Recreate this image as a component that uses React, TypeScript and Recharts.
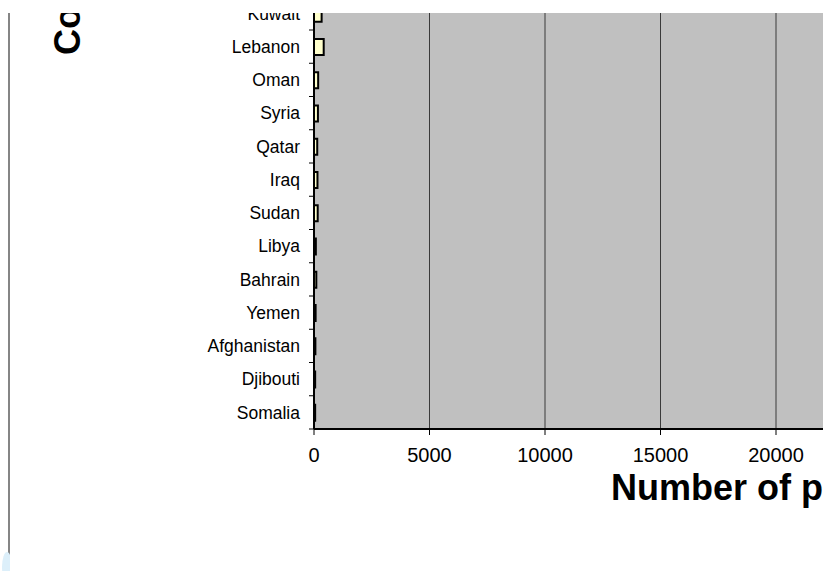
import React from "react";
import { BarChart, Bar, XAxis, YAxis, CartesianGrid } from "recharts";

const COUNTRIES = [
  "Kuwait", "Lebanon", "Oman", "Syria", "Qatar", "Iraq", "Sudan",
  "Libya", "Bahrain", "Yemen", "Afghanistan", "Djibouti", "Somalia",
];
const PEOPLE = [330, 420, 180, 170, 140, 150, 160, 80, 100, 70, 60, 50, 50];
const X_TICKS = [0, 5000, 10000, 15000, 20000, 25000, 30000];

const data = COUNTRIES.map((country, i) => ({ country, people: PEOPLE[i] }));

const FONT = '"Liberation Sans", Arial, sans-serif';

// chart geometry (chart is larger than the visible window and gets clipped)
const CHART_W = 1027;
const CHART_H = 620;
const MARGIN = { top: 36.75, right: 20, bottom: 0, left: 0 };
const X_AXIS_H = 151;
const PLOT_H = CHART_H - MARGIN.top - MARGIN.bottom - X_AXIS_H;
const HALF_BAND = PLOT_H / COUNTRIES.length / 2;

function CountryTick(props: any) {
  const { x, y, payload } = props;
  return (
    <g>
      <text
        x={x}
        y={y}
        dy="0.355em"
        textAnchor="end"
        fontSize={17.5}
        fontFamily={FONT}
        fill="#000"
      >
        {payload.value}
      </text>
      {/* Excel-style ticks sit between categories */}
      <line x1={x + 9} x2={x + 14} y1={y + HALF_BAND} y2={y + HALF_BAND} stroke="#000" strokeWidth={1} />
    </g>
  );
}

function XTitle() {
  return (
    <text x={611} y={540} fontSize={36} fontWeight="bold" fontFamily={FONT} fill="#000">
      Number of people
    </text>
  );
}

function YTitle() {
  return (
    <text
      x={80}
      y={95}
      transform="rotate(-90, 80, 95)"
      fontSize={36}
      fontWeight="bold"
      fontFamily={FONT}
      fill="#000"
    >
      Country
    </text>
  );
}

export default function App() {
  return (
    <div
      style={{
        position: "fixed",
        left: 0,
        top: 0,
        width: 826,
        height: 571,
        background: "#fff",
        overflow: "hidden",
      }}
    >
      {/* window frame edge */}
      <div style={{ position: "absolute", left: 8, top: 13, width: 2, height: 558, background: "#858585" }} />
      <div
        style={{
          position: "absolute",
          left: 2,
          top: 552,
          width: 10,
          height: 30,
          borderRadius: "50%",
          background: "#dcefFa",
        }}
      />
      <div
        style={{
          position: "absolute",
          left: 10,
          top: 13,
          width: 813,
          height: 558,
          overflow: "hidden",
          background: "#fff",
        }}
      >
        <div style={{ position: "absolute", left: -10, top: -53 }}>
          <BarChart width={CHART_W} height={CHART_H} data={data} layout="vertical" margin={MARGIN}>
            <CartesianGrid horizontal={false} stroke="#3a3a3a" fill="#C0C0C0" fillOpacity={1} />
            <XAxis
              type="number"
              domain={[0, 30000]}
              ticks={X_TICKS}
              interval={0}
              height={X_AXIS_H}
              axisLine={{ stroke: "#000", strokeWidth: 2 }}
              tickLine={{ stroke: "#000" }}
              tickSize={6}
              tickMargin={13}
              tick={{ fill: "#000", fontSize: 20, fontFamily: FONT }}
              label={<XTitle />}
            />
            <YAxis
              type="category"
              dataKey="country"
              width={314}
              interval={0}
              axisLine={{ stroke: "#000", strokeWidth: 2 }}
              tickLine={false}
              tickSize={0}
              tickMargin={14}
              tick={<CountryTick />}
              label={<YTitle />}
            />
            <Bar
              dataKey="people"
              fill="#FFFFCC"
              stroke="#000"
              strokeWidth={2}
              barSize={16}
              isAnimationActive={false}
            />
          </BarChart>
        </div>
      </div>
    </div>
  );
}
